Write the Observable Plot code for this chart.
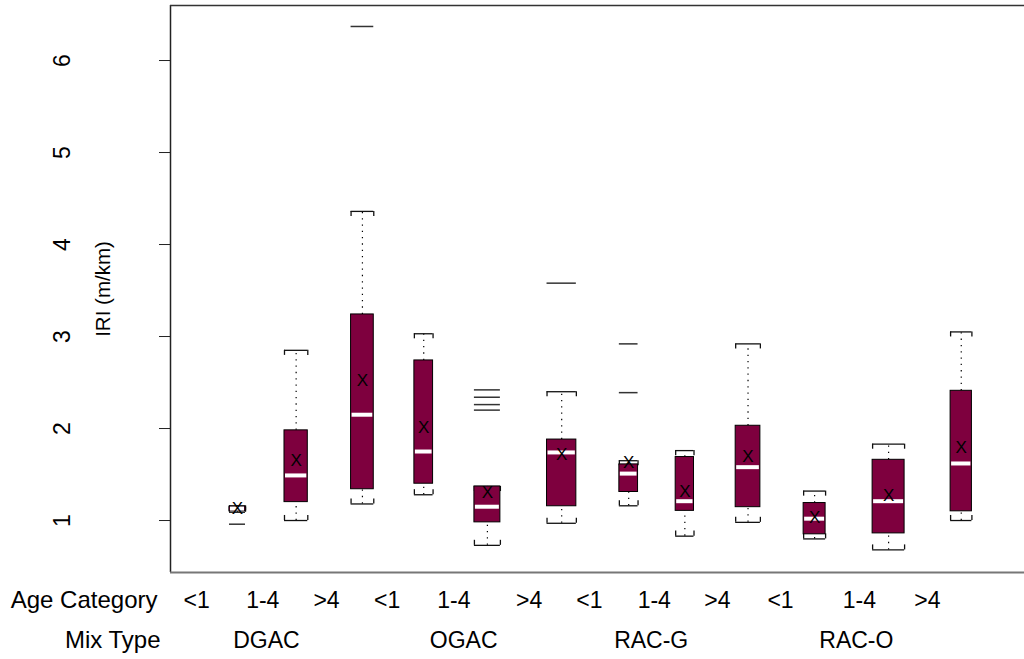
<!DOCTYPE html>
<html><head><meta charset="utf-8">
<script src="https://cdn.jsdelivr.net/npm/d3@7"></script>
<script src="https://cdn.jsdelivr.net/npm/@observablehq/plot@0.6"></script>
<style>body{margin:0;background:#fff}</style>
</head><body><div id="chart"></div>
<script>
// ---- data ----
const mixTypes   = ["DGAC","DGAC","DGAC","OGAC","OGAC","OGAC","RAC-G","RAC-G","RAC-G","RAC-O","RAC-O","RAC-O"];
const ageCats    = ["<1","1-4",">4","<1","1-4",">4","<1","1-4",">4","<1","1-4",">4"];
const boxPos     = [1.604, 2.570, 3.662, 4.672, 5.721, 6.945, 8.049, 8.974, 10.015, 11.112, 12.331, 13.528];
const boxWidth   = [0.264, 0.384, 0.374, 0.308, 0.428, 0.483, 0.308, 0.302, 0.407, 0.362, 0.527, 0.351];
const whiskerLow = [1.09, 1.00, 1.18, 1.28, 0.73, 0.97, 1.16, 0.83, 0.98, 0.80, 0.68, 1.00];
const q1         = [1.10, 1.20, 1.34, 1.40, 0.98, 1.155, 1.31, 1.105, 1.145, 0.85, 0.86, 1.10];
const median     = [1.13, 1.49, 2.15, 1.75, 1.15, 1.74, 1.51, 1.21, 1.58, 1.02, 1.21, 1.62];
const q3         = [1.15, 1.98, 3.24, 2.74, 1.37, 1.88, 1.61, 1.69, 2.03, 1.19, 1.66, 2.41];
const whiskerHigh= [1.16, 2.85, 4.36, 3.03, 1.37, 2.40, 1.65, 1.76, 2.92, 1.32, 1.83, 3.05];
const means      = [1.13, 1.65, 2.52, 2.01, 1.30, 1.72, 1.63, 1.31, 1.69, 1.03, 1.27, 1.79];
const outlierBox   = [0, 2, 4, 4, 4, 4, 5, 6, 6];
const outlierValue = [0.96, 6.37, 2.42, 2.34, 2.26, 2.20, 3.58, 2.92, 2.39];
const ageLabelPos = [0.93, 2.02, 3.07, 4.07, 5.17, 6.41, 7.40, 8.47, 9.51, 10.55, 11.85, 12.97];
const ageLabels   = ["<1","1-4",">4","<1","1-4",">4","<1","1-4",">4","<1","1-4",">4"];
const mixLabelPos = [2.08, 5.33, 8.42, 11.80];
const mixLabels   = ["DGAC","OGAC","RAC-G","RAC-O"];
const yTicks = [1, 2, 3, 4, 5, 6];
const xDomain = [0.5, 14.57];
const yDomain = [0.435, 6.598];

// ---- derived tables ----
const boxes = boxPos.map((p, i) => ({
  mix: mixTypes[i], age: ageCats[i], x: p,
  x1: p - boxWidth[i] / 2, x2: p + boxWidth[i] / 2,
  lo: whiskerLow[i], q1: q1[i], med: median[i], q3: q3[i], hi: whiskerHigh[i], mean: means[i]
}));
const STAPLE_TICK = 0.055;
const staples = boxes.flatMap(b => [{...b, y: b.hi, dir: -1}, {...b, y: b.lo, dir: 1}]);
const outliers = outlierValue.map((v, i) => ({...boxes[outlierBox[i]], y: v}));
const ageRow = ageLabelPos.map((p, i) => ({x: p, label: ageLabels[i]}));
const mixRow = mixLabelPos.map((p, i) => ({x: p, label: mixLabels[i]}));

const MAROON = "#7e003e";
const dotted = {stroke: "#000", strokeWidth: 1.2, strokeDasharray: "1.3,5"};

const chart = Plot.plot({
  width: 1024, height: 659,
  marginLeft: 170, marginRight: 0, marginTop: 5, marginBottom: 87,
  x: {domain: xDomain, axis: null},
  y: {domain: yDomain},
  style: {fontFamily: "'Liberation Sans', Arial, sans-serif", background: "#fff", color: "#000", overflow: "visible"},
  marks: [
    // whiskers
    Plot.ruleX(boxes, {x: "x", y1: "lo", y2: "q1", ...dotted}),
    Plot.ruleX(boxes, {x: "x", y1: "q3", y2: "hi", ...dotted}),
    // staples (bracket shaped)
    Plot.ruleY(staples, {y: "y", x1: "x1", x2: "x2", stroke: "#111", strokeWidth: 1.3}),
    Plot.ruleX(staples, {x: "x1", y1: "y", y2: d => d.y + d.dir * STAPLE_TICK, stroke: "#111", strokeWidth: 1.3}),
    Plot.ruleX(staples, {x: "x2", y1: "y", y2: d => d.y + d.dir * STAPLE_TICK, stroke: "#111", strokeWidth: 1.3}),
    // boxes
    Plot.rect(boxes, {x1: "x1", x2: "x2", y1: "q1", y2: "q3", fill: MAROON, stroke: "#000", strokeWidth: 1}),
    Plot.ruleY(boxes, {y: "med", x1: "x1", x2: "x2", stroke: "#fff", strokeWidth: 4, insetLeft: 1, insetRight: 1}),
    // outliers
    Plot.ruleY(outliers, {y: "y", x1: "x1", x2: "x2", stroke: "#333", strokeWidth: 1.5}),
    // means
    Plot.text(boxes, {x: "x", y: "mean", text: () => "X", fontSize: 17, fill: "#000"}),
    // frame (left, top, bottom)
    Plot.ruleX([xDomain[0]], {stroke: "#222", strokeWidth: 1.5}),
    Plot.ruleY([yDomain[1]], {stroke: "#333", strokeWidth: 1.5}),
    Plot.ruleY([yDomain[0]], {stroke: "#777", strokeWidth: 2}),
    // y axis
    Plot.axisY({ticks: yTicks, tickSize: 11, tickFormat: () => "", label: null, stroke: "#222"}),
    Plot.text(yTicks, {y: d => d, text: d => String(d), frameAnchor: "left", textAnchor: "middle", dx: -108, rotate: -90, fontSize: 23, fill: "#000"}),
    Plot.text(["IRI (m/km)"], {frameAnchor: "left", textAnchor: "middle", dx: -67, rotate: -90, fontSize: 20.5, fill: "#000"}),
    // category rows below
    Plot.text(ageRow, {x: "x", text: "label", frameAnchor: "bottom", dy: 35, fontSize: 23, fill: "#000"}),
    Plot.text(mixRow, {x: "x", text: "label", frameAnchor: "bottom", dy: 75, fontSize: 23, fill: "#000"}),
    Plot.text(["Age Category"], {frameAnchor: "bottom-left", dx: -13, dy: 35, textAnchor: "end", fontSize: 24, fill: "#000"}),
    Plot.text(["Mix Type"], {frameAnchor: "bottom-left", dx: -10, dy: 75, textAnchor: "end", fontSize: 24, fill: "#000"})
  ]
});
document.getElementById("chart").appendChild(chart);
</script>
</body></html>
